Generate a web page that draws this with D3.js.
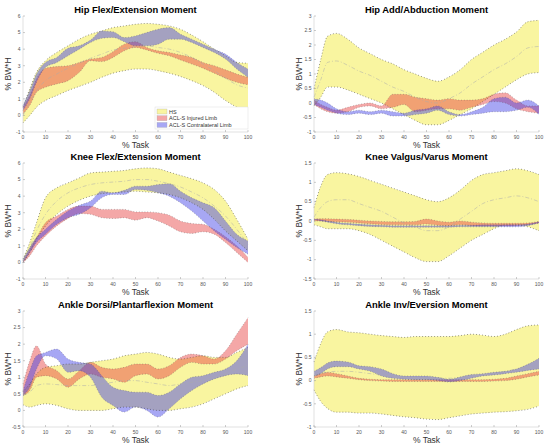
<!DOCTYPE html>
<html>
<head>
<meta charset="utf-8">
<script src="https://d3js.org/d3.v7.min.js"></script>
<style>
  body { margin: 0; background: #fff; }
  svg { font-family: "Liberation Sans", Arial, sans-serif; }
  .tick-label { font-size: 5px; fill: #555; }
  .axis-title { font-size: 8.5px; fill: #333; }
  .panel-title { font-size: 9.4px; font-weight: bold; fill: #000; }
</style>
</head>
<body>
<div id="chart"></div>
<script>
// % of task at which values were read
var pct = [0, 3, 6, 10, 15, 20, 25, 30, 35, 40, 45, 50, 55, 60, 65, 70, 75, 80, 85, 90, 95, 100];

// Hip Flex/Extension
var hipFlexHsHi   = [0.5, 1.6, 2.6, 3.3, 3.8, 4.2, 4.6, 4.9, 5.1, 5.3, 5.4, 5.5, 5.55, 5.5, 5.4, 5.2, 4.85, 4.45, 4.0, 3.6, 3.2, 3.15];
var hipFlexHsMean = [0.0, 0.8, 1.5, 2.1, 2.5, 2.85, 3.15, 3.45, 3.7, 3.95, 4.05, 4.15, 4.2, 4.1, 4.0, 3.8, 3.5, 3.1, 2.7, 2.25, 1.85, 1.65];
var hipFlexHsLo   = [-0.45, 0.0, 0.5, 0.9, 1.2, 1.5, 1.75, 2.0, 2.3, 2.55, 2.7, 2.8, 2.8, 2.7, 2.55, 2.35, 2.1, 1.8, 1.4, 0.9, 0.5, 0.2];
var hipFlexInjHi  = [0.5, 1.2, 2.2, 2.85, 2.95, 3.0, 3.2, 3.4, 3.5, 3.85, 4.3, 4.45, 4.1, 3.9, 3.8, 3.65, 3.5, 3.2, 3.0, 2.75, 2.5, 2.3];
var hipFlexInjLo  = [0.1, 0.6, 1.4, 1.7, 1.9, 2.1, 2.6, 3.3, 3.25, 3.5, 3.9, 4.1, 3.95, 3.75, 3.6, 3.35, 3.1, 2.85, 2.55, 2.25, 2.0, 1.85];
var hipFlexConHi  = [0.6, 1.5, 2.5, 3.2, 3.5, 4.05, 4.2, 4.55, 5.1, 5.05, 4.7, 4.8, 5.0, 5.2, 5.3, 4.9, 4.6, 4.3, 4.0, 3.7, 3.2, 2.8];
var hipFlexConLo  = [0.3, 1.0, 2.0, 2.9, 3.2, 3.6, 4.0, 4.4, 4.65, 4.7, 4.45, 4.2, 4.2, 4.3, 4.6, 4.6, 4.4, 4.1, 3.8, 3.4, 2.8, 2.3];

// Hip Add/Abduction
var hipAddHsHi   = [0.5, 1.5, 2.3, 2.4, 2.2, 1.9, 1.7, 1.5, 1.35, 1.15, 1.0, 0.85, 0.75, 0.9, 1.15, 1.5, 1.75, 2.0, 2.2, 2.45, 2.8, 2.85];
var hipAddHsMean = [0.2, 0.8, 1.4, 1.45, 1.3, 1.1, 0.95, 0.75, 0.55, 0.4, 0.2, 0.05, 0.0, 0.15, 0.35, 0.65, 0.9, 1.15, 1.35, 1.6, 1.9, 1.95];
var hipAddHsLo   = [-0.1, 0.2, 0.55, 0.55, 0.45, 0.3, 0.15, 0.0, -0.2, -0.4, -0.6, -0.75, -0.75, -0.6, -0.4, -0.2, 0.05, 0.3, 0.55, 0.8, 1.0, 1.05];
var hipAddInjHi  = [0.1, -0.05, -0.15, -0.25, -0.15, -0.05, 0.0, -0.1, 0.3, 0.3, 0.2, 0.15, 0.1, 0.15, 0.1, 0.1, 0.15, 0.3, 0.35, 0.1, -0.1, -0.1];
var hipAddInjLo  = [-0.05, -0.2, -0.3, -0.35, -0.3, -0.15, -0.1, -0.2, -0.15, -0.05, -0.3, -0.25, -0.2, -0.2, -0.25, -0.15, -0.05, 0.05, 0.0, -0.2, -0.3, -0.35];
var hipAddConHi  = [0.15, 0.1, 0.0, -0.2, -0.3, -0.25, -0.3, -0.25, -0.3, -0.35, -0.25, -0.2, -0.1, -0.3, -0.4, -0.3, -0.15, 0.15, 0.2, 0.0, 0.1, -0.1];
var hipAddConLo  = [-0.05, -0.15, -0.25, -0.35, -0.4, -0.35, -0.4, -0.35, -0.45, -0.45, -0.4, -0.35, -0.25, -0.4, -0.45, -0.4, -0.35, -0.3, -0.3, -0.25, -0.15, -0.4];

// Knee Flex/Extension
var kneeFlexHsHi   = [0.2, 1.2, 2.4, 3.9, 4.5, 4.8, 5.1, 5.4, 5.45, 5.5, 5.55, 5.65, 5.7, 5.65, 5.45, 5.25, 5.05, 4.8, 4.4, 3.7, 2.6, 1.4];
var kneeFlexHsMean = [0.1, 0.9, 1.9, 2.9, 3.7, 4.2, 4.5, 4.7, 4.8, 4.85, 4.9, 5.0, 5.0, 4.9, 4.75, 4.55, 4.25, 3.9, 3.4, 2.8, 2.0, 1.1];
var kneeFlexHsLo   = [0.0, 0.6, 1.4, 2.2, 2.9, 3.4, 3.75, 4.0, 4.15, 4.2, 4.25, 4.3, 4.25, 4.2, 4.1, 3.9, 3.6, 3.2, 2.6, 1.9, 1.3, 0.7];
var kneeFlexInjHi  = [0.1, 0.8, 1.5, 2.4, 2.8, 3.2, 3.4, 3.4, 3.2, 3.2, 3.2, 3.05, 3.05, 3.0, 2.85, 2.5, 2.35, 2.3, 2.0, 1.55, 1.0, 0.3];
var kneeFlexInjLo  = [0.0, 0.4, 1.0, 1.6, 2.2, 2.65, 2.95, 2.9, 2.7, 2.65, 2.7, 2.55, 2.7, 2.5, 2.2, 1.85, 1.75, 1.85, 1.7, 1.2, 0.6, 0.0];
var kneeFlexConHi  = [0.2, 0.9, 1.5, 2.0, 2.6, 3.1, 3.45, 3.7, 4.3, 4.2, 4.35, 4.6, 4.6, 4.7, 4.75, 4.3, 3.9, 3.6, 3.3, 2.5, 1.7, 1.3];
var kneeFlexConLo  = [0.0, 0.6, 1.2, 1.7, 2.3, 2.7, 2.9, 3.3, 3.9, 4.1, 4.1, 4.4, 4.35, 4.2, 4.0, 3.6, 3.1, 2.5, 1.9, 1.4, 0.9, 0.5];

// Knee Valgus/Varus
var kneeValHsHi   = [0.35, 0.9, 1.2, 1.25, 1.22, 1.15, 1.05, 0.95, 0.85, 0.75, 0.65, 0.55, 0.5, 0.6, 0.8, 1.05, 1.2, 1.25, 1.3, 1.35, 1.3, 1.2];
var kneeValHsMean = [0.1, 0.35, 0.5, 0.55, 0.55, 0.45, 0.35, 0.25, 0.1, -0.05, -0.15, -0.25, -0.25, -0.15, 0.05, 0.25, 0.45, 0.55, 0.6, 0.65, 0.6, 0.5];
var kneeValHsLo   = [-0.1, -0.15, -0.2, -0.2, -0.2, -0.25, -0.35, -0.5, -0.65, -0.8, -0.95, -1.05, -1.05, -0.9, -0.7, -0.5, -0.35, -0.2, -0.1, -0.1, -0.15, -0.25];
var kneeValInjHi  = [0.05, 0.06, 0.06, 0.05, 0.04, 0.02, 0.0, -0.01, -0.02, -0.02, -0.01, 0.05, 0.0, -0.03, 0.0, -0.03, -0.05, -0.06, -0.06, -0.06, -0.05, -0.01];
var kneeValInjLo  = [0.0, 0.0, -0.01, -0.02, -0.03, -0.05, -0.07, -0.09, -0.1, -0.1, -0.1, -0.08, -0.11, -0.12, -0.1, -0.12, -0.13, -0.13, -0.13, -0.12, -0.1, -0.05];
var kneeValConHi  = [0.05, 0.03, 0.0, -0.03, -0.06, -0.08, -0.1, -0.11, -0.12, -0.12, -0.12, -0.12, -0.12, -0.12, -0.11, -0.11, -0.1, -0.1, -0.1, -0.1, -0.08, -0.02];
var kneeValConLo  = [0.03, 0.0, -0.03, -0.07, -0.1, -0.12, -0.14, -0.15, -0.16, -0.16, -0.16, -0.16, -0.16, -0.16, -0.15, -0.15, -0.15, -0.15, -0.15, -0.15, -0.12, -0.05];

// Ankle Dorsi/Plantarflexion
var ankleDorHsHi   = [0.57, 0.8, 1.1, 1.3, 1.35, 1.4, 1.4, 1.45, 1.5, 1.55, 1.65, 1.7, 1.75, 1.7, 1.6, 1.55, 1.6, 1.65, 1.6, 1.6, 1.75, 1.9];
var ankleDorHsMean = [0.45, 0.55, 0.75, 0.8, 0.78, 0.75, 0.75, 0.75, 0.8, 0.85, 0.9, 0.9, 0.85, 0.8, 0.75, 0.8, 0.85, 0.9, 1.0, 1.1, 1.25, 1.35];
var ankleDorHsLo   = [0.17, 0.1, 0.15, 0.2, 0.15, 0.05, 0.0, 0.0, 0.0, 0.05, 0.1, 0.1, 0.05, 0.0, 0.0, 0.05, 0.1, 0.2, 0.35, 0.5, 0.65, 0.75];
var ankleDorInjHi  = [0.8, 1.5, 1.95, 1.4, 1.2, 0.95, 1.2, 1.45, 1.3, 1.25, 1.3, 1.4, 1.4, 1.25, 1.35, 1.6, 1.7, 1.65, 1.55, 1.8, 2.3, 2.8];
var ankleDorInjLo  = [0.45, 0.6, 1.0, 1.05, 0.95, 0.7, 0.95, 1.1, 1.0, 0.95, 0.85, 1.05, 1.1, 0.95, 1.05, 1.3, 1.45, 1.4, 1.4, 1.55, 1.8, 2.0];
var ankleDorConHi  = [0.6, 1.2, 1.65, 1.75, 1.85, 1.55, 1.45, 1.4, 1.05, 0.7, 0.6, 0.55, 0.55, 0.45, 0.55, 0.8, 1.0, 1.05, 1.15, 1.25, 1.5, 2.0];
var ankleDorConLo  = [0.45, 0.7, 1.25, 1.65, 1.55, 1.15, 1.2, 1.0, 0.4, 0.15, -0.05, 0.1, 0.0, -0.2, 0.05, 0.35, 0.6, 0.8, 0.95, 1.05, 1.1, 1.05];

// Ankle Inv/Eversion
var ankleInvHsHi   = [0.4, 0.8, 1.05, 1.1, 1.05, 1.03, 1.0, 0.97, 0.95, 0.93, 0.95, 0.95, 0.95, 0.95, 0.97, 1.0, 0.98, 0.95, 1.0, 1.1, 1.18, 1.2];
var ankleInvHsMean = [0.1, 0.15, 0.18, 0.2, 0.2, 0.18, 0.15, 0.12, 0.1, 0.08, 0.06, 0.05, 0.05, 0.05, 0.07, 0.1, 0.12, 0.15, 0.2, 0.25, 0.28, 0.3];
var ankleInvHsLo   = [-0.2, -0.45, -0.6, -0.68, -0.68, -0.7, -0.7, -0.72, -0.75, -0.78, -0.8, -0.83, -0.84, -0.8, -0.76, -0.72, -0.7, -0.68, -0.67, -0.65, -0.62, -0.55];
var ankleInvInjHi  = [0.1, 0.15, 0.18, 0.15, 0.1, 0.05, 0.03, 0.02, 0.02, 0.02, 0.02, 0.02, 0.02, 0.02, 0.02, 0.02, 0.02, 0.03, 0.05, 0.1, 0.15, 0.2];
var ankleInvInjLo  = [0.05, 0.08, 0.1, 0.08, 0.05, 0.02, 0.0, -0.01, -0.02, -0.02, -0.02, -0.02, -0.02, -0.02, -0.02, -0.02, -0.02, -0.01, 0.0, 0.03, 0.08, 0.12];
var ankleInvConHi  = [0.2, 0.28, 0.38, 0.42, 0.4, 0.32, 0.3, 0.25, 0.15, 0.1, 0.1, 0.1, 0.07, 0.03, 0.08, 0.13, 0.15, 0.18, 0.2, 0.25, 0.35, 0.48];
var ankleInvConLo  = [0.1, 0.15, 0.25, 0.3, 0.3, 0.25, 0.2, 0.1, 0.05, 0.03, 0.02, 0.02, 0.0, -0.03, 0.0, 0.05, 0.1, 0.12, 0.15, 0.18, 0.22, 0.25];

var xTicks = [0, 10, 20, 30, 40, 50, 60, 70, 80, 90, 100];
var legendLabels = ["HS", "ACL-S Injured Limb", "ACL-S Contralateral Limb"];

var panels = [
  { title: "Hip Flex/Extension Moment", left: 23, top: 16, yDomain: [-1, 6], yTicks: [-1, 0, 1, 2, 3, 4, 5, 6],
    hs: [hipFlexHsLo, hipFlexHsMean, hipFlexHsHi], inj: [hipFlexInjLo, hipFlexInjHi], con: [hipFlexConLo, hipFlexConHi], legend: true },
  { title: "Hip Add/Abduction Moment", left: 314, top: 16, yDomain: [-1, 3], yTicks: [-1, -0.5, 0, 0.5, 1, 1.5, 2, 2.5, 3],
    hs: [hipAddHsLo, hipAddHsMean, hipAddHsHi], inj: [hipAddInjLo, hipAddInjHi], con: [hipAddConLo, hipAddConHi] },
  { title: "Knee Flex/Extension Moment", left: 23, top: 163, yDomain: [-1, 6], yTicks: [-1, 0, 1, 2, 3, 4, 5, 6],
    hs: [kneeFlexHsLo, kneeFlexHsMean, kneeFlexHsHi], inj: [kneeFlexInjLo, kneeFlexInjHi], con: [kneeFlexConLo, kneeFlexConHi] },
  { title: "Knee Valgus/Varus Moment", left: 314, top: 163, yDomain: [-1.5, 1.5], yTicks: [-1.5, -1, -0.5, 0, 0.5, 1, 1.5],
    hs: [kneeValHsLo, kneeValHsMean, kneeValHsHi], inj: [kneeValInjLo, kneeValInjHi], con: [kneeValConLo, kneeValConHi] },
  { title: "Ankle Dorsi/Plantarflexion Moment", left: 23, top: 311, yDomain: [-0.5, 3], yTicks: [-0.5, 0, 0.5, 1, 1.5, 2, 2.5, 3],
    hs: [ankleDorHsLo, ankleDorHsMean, ankleDorHsHi], inj: [ankleDorInjLo, ankleDorInjHi], con: [ankleDorConLo, ankleDorConHi] },
  { title: "Ankle Inv/Eversion Moment", left: 314, top: 311, yDomain: [-1, 1.5], yTicks: [-1, -0.5, 0, 0.5, 1, 1.5],
    hs: [ankleInvHsLo, ankleInvHsMean, ankleInvHsHi], inj: [ankleInvInjLo, ankleInvInjHi], con: [ankleInvConLo, ankleInvConHi] }
];

var W = 550, H = 447, pw = 225, ph = 116;
var hsFill = "#f9f5a0", injFill = "rgba(230,60,60,0.45)", conFill = "rgba(60,60,230,0.45)";

var svg = d3.select("#chart").append("svg").attr("width", W).attr("height", H);

panels.forEach(function(p) {
  var g = svg.append("g").attr("transform", "translate(" + p.left + "," + p.top + ")");
  var x = d3.scaleLinear().domain([0, 100]).range([0, pw]);
  var y = d3.scaleLinear().domain(p.yDomain).range([ph, 0]);
  var idx = d3.range(pct.length);

  function band(lo, hi, fill) {
    var area = d3.area().curve(d3.curveMonotoneX)
      .x(function(i) { return x(pct[i]); })
      .y0(function(i) { return y(lo[i]); })
      .y1(function(i) { return y(hi[i]); });
    g.append("path").datum(idx).attr("d", area).attr("fill", fill).attr("stroke", "none");
  }
  function edge(vals, dash, color, w) {
    var line = d3.line().curve(d3.curveMonotoneX)
      .x(function(i) { return x(pct[i]); })
      .y(function(i) { return y(vals[i]); });
    g.append("path").datum(idx).attr("d", line).attr("fill", "none")
      .attr("stroke", color).attr("stroke-width", w).attr("stroke-dasharray", dash);
  }

  band(p.hs[0], p.hs[2], hsFill);
  band(p.inj[0], p.inj[1], injFill);
  band(p.con[0], p.con[1], conFill);

  edge(p.hs[0], "0.8,2.2", "#333", 0.6);
  edge(p.hs[2], "0.8,2.2", "#333", 0.6);
  edge(p.hs[1], "4,2,1,2", "#aaa", 0.5);
  [p.inj, p.con].forEach(function(s) {
    edge(s[0], "0.8,2", "#555", 0.45);
    edge(s[1], "0.8,2", "#555", 0.45);
  });

  // axes
  g.append("line").attr("x1", 0).attr("x2", 0).attr("y1", 0).attr("y2", ph).attr("stroke", "#ccc").attr("stroke-width", 0.6);
  g.append("line").attr("x1", 0).attr("x2", pw).attr("y1", ph).attr("y2", ph).attr("stroke", "#ccc").attr("stroke-width", 0.6);

  xTicks.forEach(function(t) {
    g.append("line").attr("x1", x(t)).attr("x2", x(t)).attr("y1", ph).attr("y2", ph - 2).attr("stroke", "#999").attr("stroke-width", 0.5);
    g.append("text").attr("class", "tick-label").attr("x", x(t)).attr("y", ph + 7)
      .attr("text-anchor", "middle").text(t);
  });
  p.yTicks.forEach(function(t) {
    g.append("line").attr("x1", 0).attr("x2", 2).attr("y1", y(t)).attr("y2", y(t)).attr("stroke", "#999").attr("stroke-width", 0.5);
    g.append("text").attr("class", "tick-label").attr("x", -2.5).attr("y", y(t) + 1.8)
      .attr("text-anchor", "end").text(t);
  });

  g.append("text").attr("class", "panel-title").attr("x", pw / 2).attr("y", -3)
    .attr("text-anchor", "middle").text(p.title);
  g.append("text").attr("class", "axis-title").attr("x", pw / 2).attr("y", ph + 16)
    .attr("text-anchor", "middle").text("% Task");
  g.append("text").attr("class", "axis-title")
    .attr("transform", "translate(-12.5," + (ph / 2) + ") rotate(-90)")
    .attr("text-anchor", "middle").text("% BW*H");

  if (p.legend) {
    var lg = g.append("g").attr("transform", "translate(" + (pw - 93) + "," + (ph - 25) + ")");
    lg.append("rect").attr("width", 93).attr("height", 22).attr("fill", "#fff").attr("stroke", "#ddd").attr("stroke-width", 0.5);
    var fills = [hsFill, injFill, conFill];
    legendLabels.forEach(function(l, i) {
      lg.append("rect").attr("x", 2).attr("y", 2 + i * 6.7).attr("width", 10).attr("height", 5)
        .attr("fill", fills[i]).attr("stroke", "#aaa").attr("stroke-width", 0.3);
      lg.append("text").attr("x", 14).attr("y", 6.5 + i * 6.7).style("font-size", "5.5px").style("fill", "#333").text(l);
    });
  }
});
</script>
</body>
</html>
